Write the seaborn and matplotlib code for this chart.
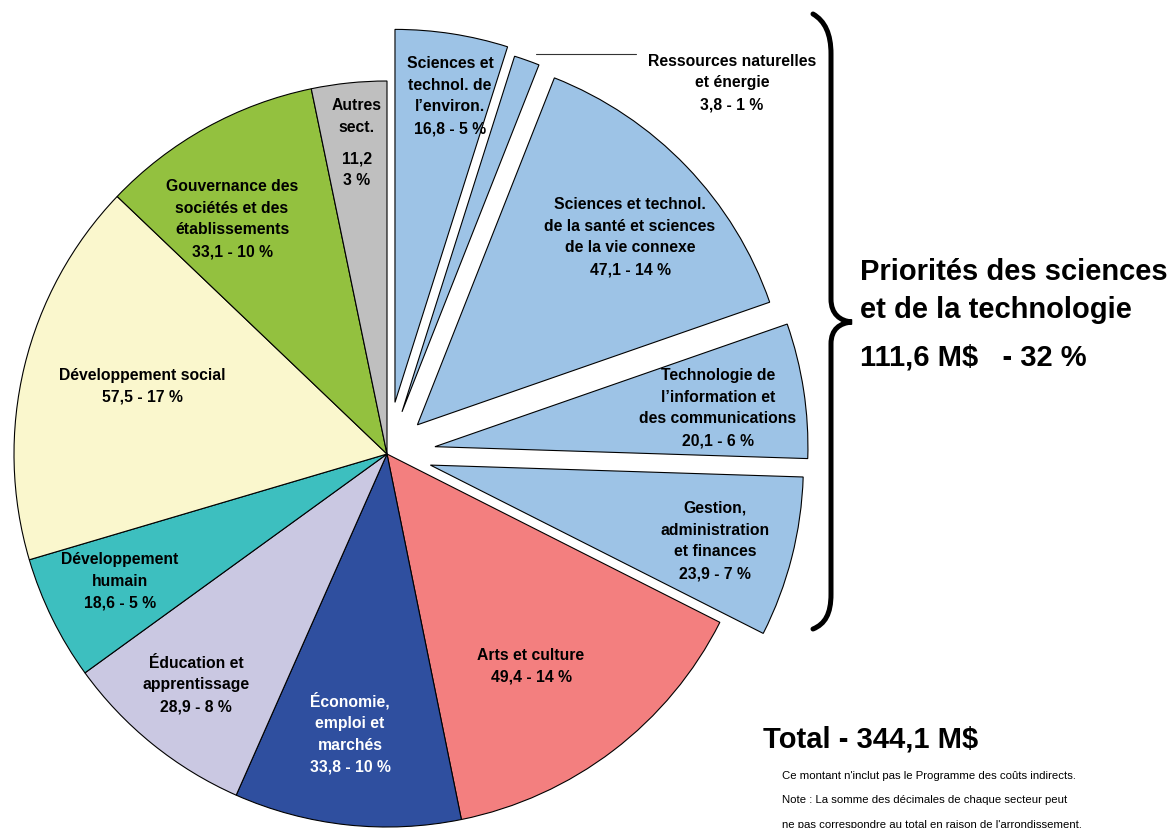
import matplotlib
matplotlib.use("Agg")
import matplotlib.pyplot as plt
from matplotlib.path import Path
from matplotlib.patches import PathPatch
import seaborn as sns

# sectors, clockwise from 12 o'clock
sectors = ["Sciences et technol. de l'environ.", "Ressources naturelles et énergie",
           "Santé et sciences de la vie", "TIC", "Gestion, administration et finances",
           "Arts et culture", "Économie, emploi et marchés", "Éducation et apprentissage",
           "Développement humain", "Développement social",
           "Gouvernance des sociétés et des établissements", "Autres sect."]
values = [16.8, 3.8, 47.1, 20.1, 23.9, 49.4, 33.8, 28.9, 18.6, 57.5, 33.1, 11.2]
label_texts = [
    "Sciences et\ntechnol. de\nl’environ.\n16,8 - 5 %",
    "Ressources naturelles\net énergie\n3,8 - 1 %",
    "Sciences et technol.\nde la santé et sciences\nde la vie connexe\n47,1 - 14 %",
    "Technologie de\nl’information et\ndes communications\n20,1 - 6 %",
    "Gestion,\nadministration\net finances\n23,9 - 7 %",
    "Arts et culture\n49,4 - 14 %",
    "Économie,\nemploi et\nmarchés\n33,8 - 10 %",
    "Éducation et\napprentissage\n28,9 - 8 %",
    "Développement\nhumain\n18,6 - 5 %",
    "Développement social\n57,5 - 17 %",
    "Gouvernance des\nsociétés et des\nétablissements\n33,1 - 10 %",
    "Autres\nsect.\n\n11,2\n3 %",
]
st_group_text = "Priorités des sciences\net de la technologie"
st_group_total = "111,6 M$   - 32 %"
total_text = "Total - 344,1 M$"
notes = ["Ce montant n'inclut pas le Programme des coûts indirects.",
         "Note : La somme des décimales de chaque secteur peut",
         "ne pas correspondre au total en raison de l'arrondissement."]

colors = ["#9DC3E6"] * 5 + ["#F37F7F", "#2F4F9F", "#CAC8E2", "#3DBFBF",
                            "#FAF7CD", "#93C13F", "#BFBFBF"]
explode_frac = [0.14, 0.12, 0.113, 0.13, 0.12, 0, 0, 0, 0, 0, 0, 0]

# label centres in pixel coords (x, y from top)
label_pos = [(450, 96), (732, 83), (630, 237), (718, 408), (715, 541),
             (531, 666), (350, 733), (196, 685), (120, 581), (142, 386),
             (232, 219), (357, 143)]
label_colors = ["black"] * 6 + ["white"] + ["black"] * 5

W, H = 1171, 829
R = 373
sns.set_theme(style="white")
plt.rcParams["font.family"] = ["Liberation Sans", "DejaVu Sans"]
plt.rcParams["text.color"] = "black"

fig = plt.figure(figsize=(W / 100, H / 100), dpi=100)
ax = fig.add_axes([0, 0, 1, 1])

# matplotlib's explode offset is in data units, so scale by radius
ax.pie(values, colors=sns.color_palette(colors),
       explode=[e * R for e in explode_frac],
       startangle=90, counterclock=False, center=(387, H - 455), radius=R,
       wedgeprops=dict(edgecolor="black", linewidth=0.8))

ax.set_xlim(0, W)
ax.set_ylim(0, H)
ax.set_aspect("equal")
ax.axis("off")

for txt, (px, py), c in zip(label_texts, label_pos, label_colors):
    blocks = txt.split("\n\n")
    if len(blocks) == 1:
        offsets = [0]
    else:
        offsets = [-26.5, 26.5]
    for block, off in zip(blocks, offsets):
        ax.text(px, H - py - off, block, ha="center", va="center",
                fontsize=11.3, fontweight="bold", color=c, linespacing=1.56)

# leader line for the small slice
ax.plot([536, 636], [H - 55, H - 55], color="#333333", lw=0.8)

# curly brace
verts = [(813, 15), (825, 22), (831, 35), (831, 55),
         (831, 300),
         (831, 315), (840, 322), (852, 323),
         (840, 324), (831, 330), (831, 345),
         (831, 595),
         (831, 615), (825, 625), (813, 630)]
codes = [Path.MOVETO, Path.CURVE4, Path.CURVE4, Path.CURVE4,
         Path.LINETO,
         Path.CURVE4, Path.CURVE4, Path.CURVE4,
         Path.CURVE4, Path.CURVE4, Path.CURVE4,
         Path.LINETO,
         Path.CURVE4, Path.CURVE4, Path.CURVE4]
brace = Path([(x, H - y) for x, y in verts], codes)
ax.add_patch(PathPatch(brace, facecolor="none", edgecolor="black", lw=3.6,
                       capstyle="round"))

ax.text(860, H - 291, st_group_text, ha="left", va="center", fontsize=21,
        fontweight="bold", linespacing=1.45)
ax.text(860, H - 358, st_group_total, ha="left", va="center", fontsize=21,
        fontweight="bold")
ax.text(763, H - 740, total_text, ha="left", va="center", fontsize=21,
        fontweight="bold")
for i, line in enumerate(notes):
    ax.text(782, H - 776 - 24.5 * i, line, ha="left", va="center", fontsize=8.2)

fig.savefig("out.png", dpi=100)
